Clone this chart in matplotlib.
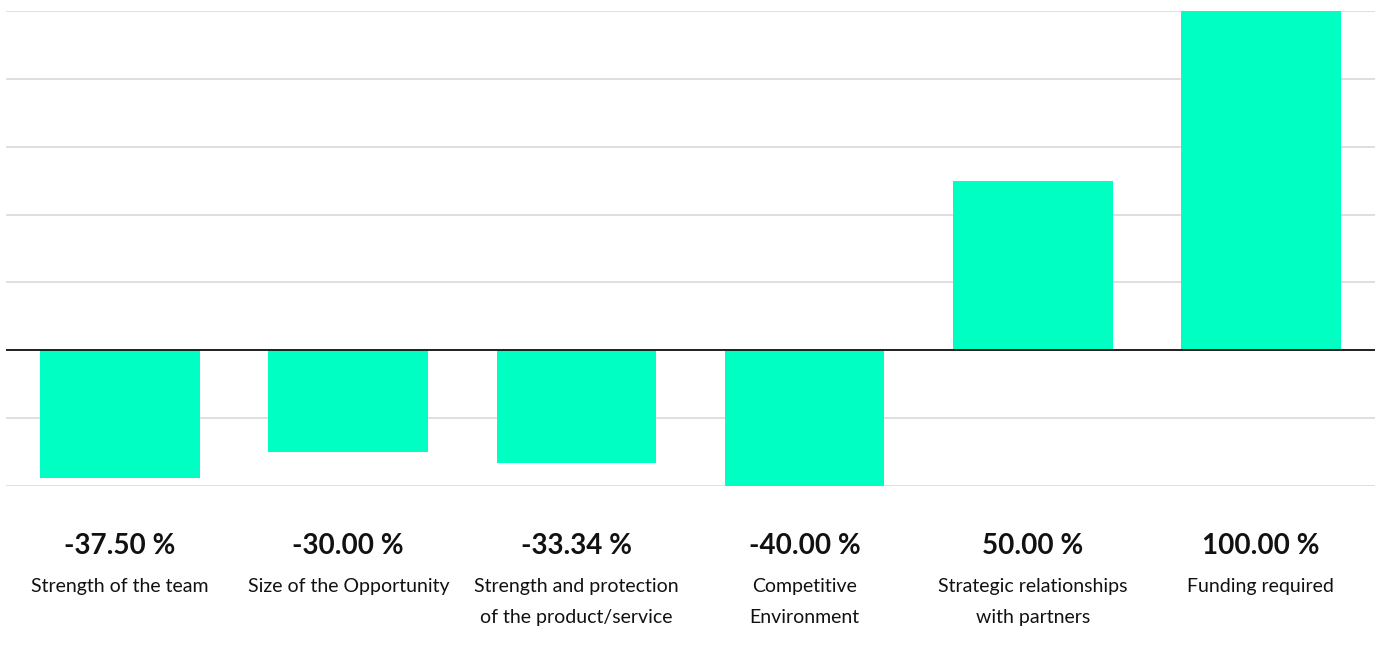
import matplotlib
matplotlib.use("Agg")
import matplotlib.pyplot as plt

categories = ["Strength of the team", "Size of the Opportunity",
              "Strength and protection\nof the product/service",
              "Competitive\nEnvironment", "Strategic relationships\nwith partners",
              "Funding required"]
values = [-37.50, -30.00, -33.34, -40.00, 50.00, 100.00]
value_labels = ["-37.50 %", "-30.00 %", "-33.34 %", "-40.00 %", "50.00 %", "100.00 %"]
yticks = [-40, -20, 0, 20, 40, 60, 80, 100]

plt.rcParams['font.family'] = ['Lato', 'DejaVu Sans']

W, H = 1383, 652
fig = plt.figure(figsize=(W/100, H/100), dpi=100)
ax = fig.add_axes([6/W, (H-486)/H, (1375-6)/W, (486-11)/H])

x = list(range(len(values)))
ax.bar(x, values, width=0.70, color="#00FFC2", zorder=2)
ax.set_xlim(-0.5, 5.5)
ax.set_ylim(-40, 100)
ax.set_yticks(yticks)
ax.set_xticks([])
ax.yaxis.grid(True, color="#d9d9d9", linewidth=1.2, zorder=0)
ax.tick_params(axis='y', length=0, labelleft=False)
for s in ax.spines.values():
    s.set_visible(False)
ax.axhline(0, color="#111111", linewidth=1.3, zorder=3)

for xi, vl, cat in zip(x, value_labels, categories):
    xf = ax.transData.transform((xi, 0))[0] / W
    fig.text(xf, (H-546)/H, vl, ha='center', va='center', fontsize=20,
             fontweight='bold', color="#111111")
    fig.text(xf, (H-578)/H, cat, ha='center', va='top', fontsize=14,
             color="#111111", linespacing=2.0)

fig.savefig("out.png", dpi=100)
